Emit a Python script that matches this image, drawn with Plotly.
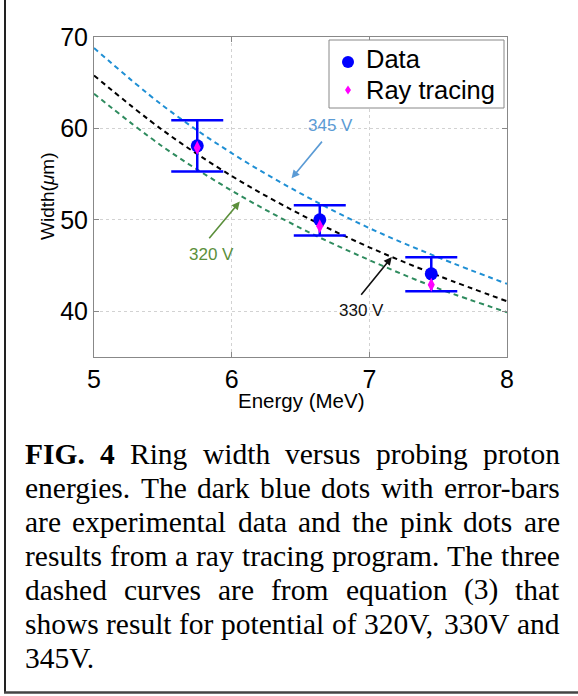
import plotly.graph_objects as go

# ---------------- data ----------------
energy_pts = [5.75, 6.64, 7.45]
data_width = [58.1, 50.0, 44.1]
data_upper = [60.9, 51.6, 45.9]
data_lower = [55.3, 48.3, 42.2]
ray_width = [57.9, 49.3, 42.9]

curve_energy = [5.0, 5.5, 6.0, 6.5, 7.0, 7.5, 8.0]
curve_345 = [68.8, 62.5, 57.3, 52.9, 49.1, 45.9, 43.0]
curve_330 = [65.8, 59.8, 54.8, 50.6, 47.0, 43.9, 41.1]
curve_320 = [63.8, 58.0, 53.2, 49.1, 45.6, 42.5, 39.9]

x_ticks = [5, 6, 7, 8]
y_ticks = [40, 50, 60, 70]

legend_names = ["Data", "Ray tracing"]

caption_lines = [
    "FIG. 4 Ring width versus probing proton",
    "energies. The dark blue dots with error-bars",
    "are experimental data and the pink dots are",
    "results from a ray tracing program. The three",
    "dashed curves are from equation (3) that",
    "shows result for potential of 320V, 330V and",
    "345V.",
]

# ---------------- geometry ----------------
W, H = 578, 696
L, R, T, B = 94, 71, 37, 339
PW, PH = W - L - R, H - T - B


def fx(px):
    return (px - L) / PW


def fy(py):
    return (H - B - py) / PH


SANS = "Liberation Sans, Arial, Helvetica, sans-serif"
SERIF = "Liberation Serif, Times New Roman, serif"
BLUE, MAGENTA = "#0000ff", "#ff00ff"

fig = go.Figure()

fig.add_trace(go.Scatter(x=curve_energy, y=curve_345, mode="lines", showlegend=False,
                         line=dict(color="#1f8fd4", width=2, dash="5px,4px", shape="spline"),
                         hoverinfo="skip"))
fig.add_trace(go.Scatter(x=curve_energy, y=curve_330, mode="lines", showlegend=False,
                         line=dict(color="#000000", width=2, dash="5px,4px", shape="spline"),
                         hoverinfo="skip"))
fig.add_trace(go.Scatter(x=curve_energy, y=curve_320, mode="lines", showlegend=False,
                         line=dict(color="#2e8b5e", width=2, dash="5px,4px", shape="spline"),
                         hoverinfo="skip"))

err_plus = [u - v for u, v in zip(data_upper, data_width)]
err_minus = [v - l for v, l in zip(data_width, data_lower)]

fig.add_trace(go.Scatter(
    x=energy_pts, y=data_width, mode="markers", name=legend_names[0], showlegend=False,
    marker=dict(color=BLUE, size=13, symbol="circle", line=dict(width=0)),
    error_y=dict(type="data", symmetric=False, array=err_plus, arrayminus=err_minus,
                 color=BLUE, thickness=2.5, width=26),
))
fig.add_trace(go.Scatter(
    x=energy_pts, y=ray_width, mode="markers", name=legend_names[1], showlegend=False,
    marker=dict(color=MAGENTA, size=10, symbol="diamond-tall", line=dict(width=0)),
))

annotations = []

# curve labels and arrows (data coordinates)
labels = [
    ("345 V", "#5b9bd5", 6.718, 60.31, (6.435, 54.55), (6.665, 58.72)),
    ("320 V", "#5b8f3b", 5.853, 46.18, (6.059, 52.0), (5.828, 47.82)),
    ("330 V", "#111111", 6.942, 40.08, (7.163, 45.93), (6.932, 41.64)),
]
for txt, col, tx, ty, head, tail in labels:
    annotations.append(dict(x=tx, y=ty, xref="x", yref="y", text=txt, showarrow=False,
                            font=dict(family=SANS, size=17, color=col)))
    annotations.append(dict(x=head[0], y=head[1], ax=tail[0], ay=tail[1], xref="x", yref="y",
                            axref="x", ayref="y", text="", showarrow=True, arrowhead=2,
                            arrowsize=1, arrowwidth=1.6, arrowcolor=col, standoff=0))

# axis titles
annotations.append(dict(x=fx(300.5), y=fy(400.5), xref="paper", yref="paper", text="Energy (MeV)",
                        showarrow=False, xanchor="center", yanchor="middle",
                        font=dict(family=SANS, size=20.5, color="#000")))
annotations.append(dict(x=fx(47), y=0.5, xref="paper", yref="paper", text="Width(<i>μ</i>m)",
                        showarrow=False, textangle=-90, xanchor="center", yanchor="middle",
                        font=dict(family=SANS, size=19, color="#000")))

# ---------------- legend (drawn box) ----------------
shapes = []
shapes.append(dict(type="rect", xref="paper", yref="paper", x0=fx(329), x1=fx(504),
                   y0=fy(108), y1=fy(40), fillcolor="white", line=dict(color="#888", width=1)))
shapes.append(dict(type="circle", xref="paper", yref="paper", x0=fx(342), x1=fx(354),
                   y0=fy(68), y1=fy(56), fillcolor=BLUE, line=dict(width=0)))
dcx, dcy = 348, 90
shapes.append(dict(type="path", xref="paper", yref="paper",
                   path="M %f,%f L %f,%f L %f,%f L %f,%f Z" % (
                       fx(dcx), fy(dcy - 4.5), fx(dcx + 3), fy(dcy), fx(dcx), fy(dcy + 4.5),
                       fx(dcx - 3), fy(dcy)),
                   fillcolor=MAGENTA, line=dict(width=0)))
annotations.append(dict(x=fx(365), y=fy(58.8), xref="paper", yref="paper", text=legend_names[0],
                        showarrow=False, xanchor="left", yanchor="middle", borderpad=0,
                        font=dict(family=SANS, size=25.5, color="#000")))
annotations.append(dict(x=fx(365), y=fy(89.6), xref="paper", yref="paper", text=legend_names[1],
                        showarrow=False, xanchor="left", yanchor="middle", borderpad=0,
                        font=dict(family=SANS, size=25.5, color="#000")))

# ---------------- caption, justified ----------------
TR = {' ': 250, 'a': 444, 'b': 500, 'c': 444, 'd': 500, 'e': 444, 'f': 333, 'g': 500, 'h': 500,
      'i': 278, 'j': 278, 'k': 500, 'l': 278, 'm': 778, 'n': 500, 'o': 500, 'p': 500, 'q': 500,
      'r': 333, 's': 389, 't': 278, 'u': 500, 'v': 500, 'w': 722, 'x': 500, 'y': 500, 'z': 444,
      'R': 667, 'T': 611, 'V': 722, '.': 250, ',': 250, '-': 333, '(': 333, ')': 333}
for d in "0123456789":
    TR[d] = 500
TB = {'F': 611, 'I': 389, 'G': 778, '.': 250, '4': 500}

FS = 29.5
LEFT, RIGHT = 25, 560
baseline0, lead = 463.8, 34.0


def wwidth(word, bold):
    tbl = TB if bold else TR
    return sum(tbl.get(c, 500) for c in word) / 1000.0 * FS


for i, line in enumerate(caption_lines):
    words = line.split(" ")
    bolds = [(i == 0 and j < 2) for j in range(len(words))]
    cy = baseline0 + i * lead - 0.34 * FS
    widths = [wwidth(w, b) for w, b in zip(words, bolds)]
    last = (i == len(caption_lines) - 1)
    if last or len(words) == 1:
        gap = 0.25 * FS
    else:
        gap = (RIGHT - LEFT - sum(widths)) / (len(words) - 1)
    xpos = LEFT
    for j, (w, b) in enumerate(zip(words, bolds)):
        txt = "<b>%s</b>" % w if b else w
        if (not last) and j == len(words) - 1 and len(words) > 1:
            annotations.append(dict(x=fx(RIGHT), y=fy(cy), xref="paper", yref="paper", text=txt,
                                    showarrow=False, xanchor="right", yanchor="middle",
                                    borderpad=0, borderwidth=0,
                                    font=dict(family=SERIF, size=FS, color="#000")))
        else:
            annotations.append(dict(x=fx(xpos), y=fy(cy), xref="paper", yref="paper", text=txt,
                                    showarrow=False, xanchor="left", yanchor="middle",
                                    borderpad=0, borderwidth=0,
                                    font=dict(family=SERIF, size=FS, color="#000")))
        xpos += widths[j] + gap

shapes += [
    dict(type="line", xref="paper", yref="paper", x0=fx(5), x1=fx(5), y0=fy(0), y1=fy(693),
         line=dict(color="#222", width=2)),
    dict(type="line", xref="paper", yref="paper", x0=fx(4), x1=fx(578), y0=fy(692.5), y1=fy(692.5),
         line=dict(color="#444", width=2.5)),
]

fig.update_layout(
    width=W, height=H,
    margin=dict(l=L, r=R, t=T, b=B, pad=0),
    paper_bgcolor="white", plot_bgcolor="white",
    showlegend=False,
    annotations=annotations, shapes=shapes,
    xaxis=dict(range=[5, 8], tickvals=x_ticks, ticktext=[str(v) for v in x_ticks],
               showgrid=True, gridcolor="#d2d2d2", griddash="dot", gridwidth=1,
               zeroline=False, showline=True, linecolor="#888", linewidth=1, mirror="ticks",
               ticks="inside", ticklen=5, tickcolor="#888",
               tickfont=dict(family=SANS, size=25, color="#000")),
    yaxis=dict(range=[35, 70], tickvals=y_ticks, ticktext=[str(v) for v in y_ticks],
               showgrid=True, gridcolor="#d2d2d2", griddash="dot", gridwidth=1,
               zeroline=False, showline=True, linecolor="#888", linewidth=1, mirror="ticks",
               ticks="inside", ticklen=5, tickcolor="#888",
               tickfont=dict(family=SANS, size=25, color="#000")),
)

fig.write_html("out.html", config={"displayModeBar": False},
               post_script="document.body.style.margin='0';document.body.style.padding='0';")
